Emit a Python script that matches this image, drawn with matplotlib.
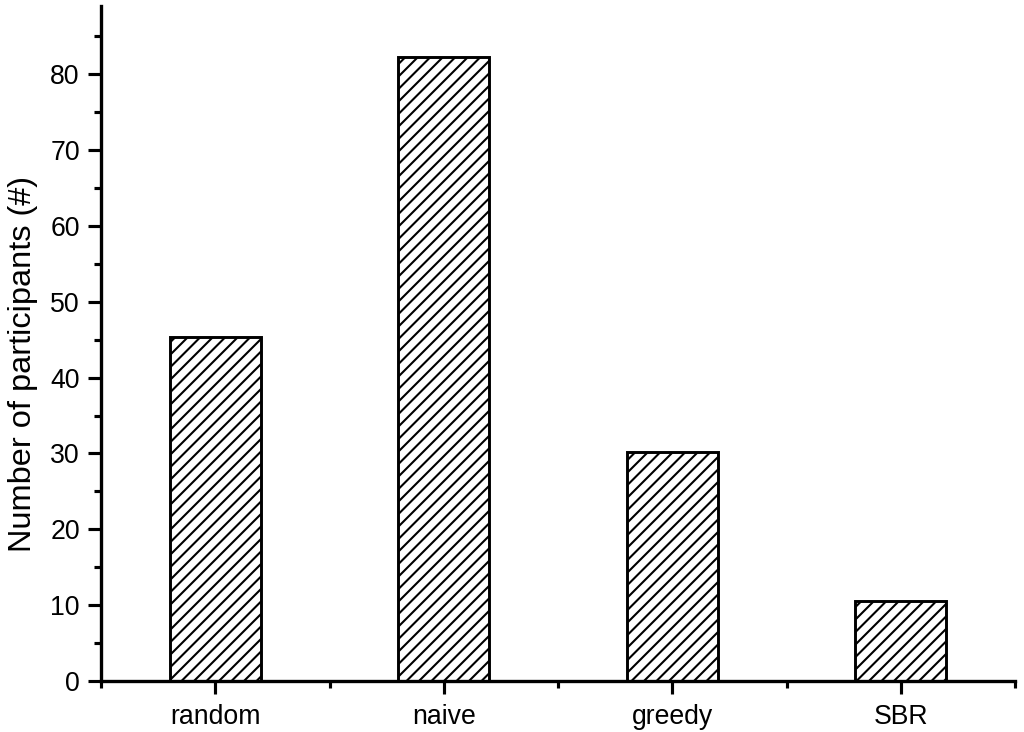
import numpy as np
import matplotlib
import matplotlib.pyplot as plt
import matplotlib.ticker as ticker

matplotlib.rc('font', family='Liberation Sans', size=12.8)
matplotlib.rc('hatch', linewidth=1.0)

categories = ['random', 'naive', 'greedy', 'SBR']
participants = [45.3, 82.3, 30.2, 10.6]

dpi = 150
fig = plt.figure(figsize=(1024 / dpi, 732 / dpi), dpi=dpi)
ax = fig.add_axes([101 / 1024, 1 - 681 / 732, (1015 - 101) / 1024, (681 - 6) / 732])

x = np.arange(1, len(categories) + 1)
ax.bar(x, participants, width=0.4, color='white', edgecolor='black',
       linewidth=1.4, hatch='////')

ax.set_xlim(0.5, 4.5)
ax.set_ylim(0, 89)
ax.set_xticks(x)
ax.set_xticklabels(categories)
ax.xaxis.set_minor_locator(ticker.FixedLocator([0.5, 1.5, 2.5, 3.5, 4.5]))
ax.yaxis.set_major_locator(ticker.MultipleLocator(10))
ax.yaxis.set_minor_locator(ticker.MultipleLocator(5))

for side in ('top', 'right'):
    ax.spines[side].set_visible(False)
for side in ('left', 'bottom'):
    ax.spines[side].set_linewidth(1.6)

ax.tick_params(which='major', direction='out', length=6.2, width=1.5, pad=4)
ax.tick_params(which='minor', direction='out', length=3.2, width=1.5)
ax.tick_params(axis='x', which='major', pad=5)

ax.set_ylabel('Number of participants (#)', fontsize=15.6, labelpad=6, y=0.47)

plt.savefig('out.png', dpi=dpi)
